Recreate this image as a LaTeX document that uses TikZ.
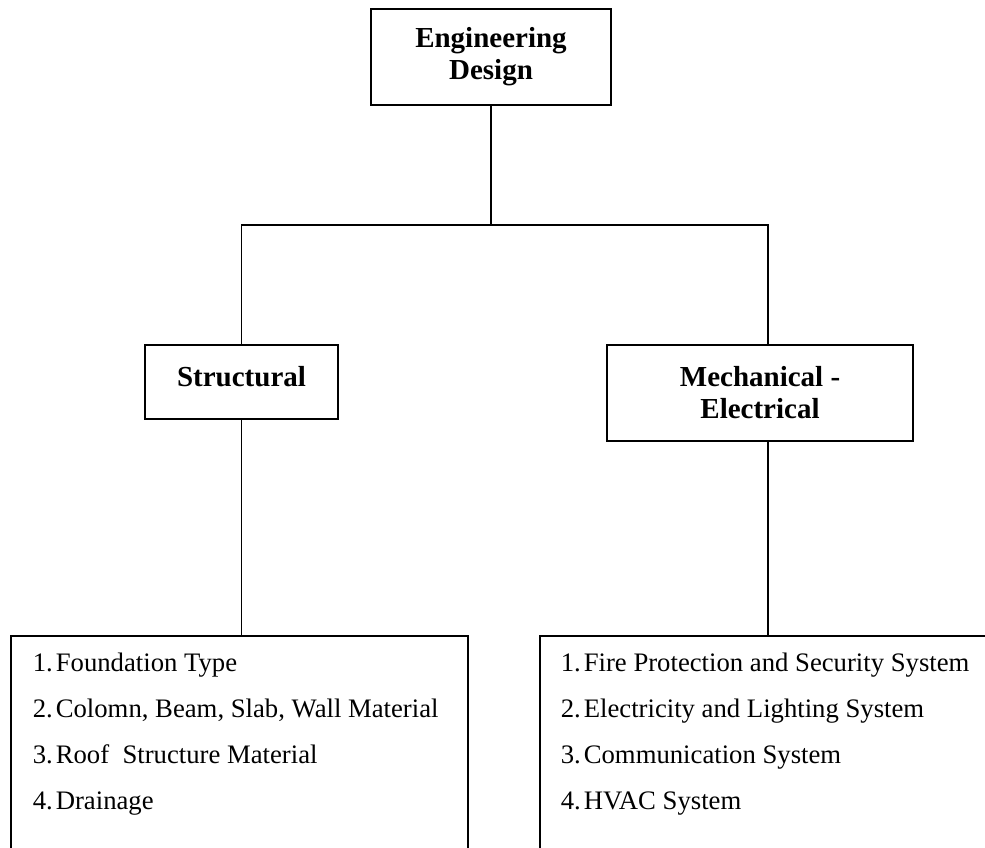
\documentclass[tikz,border=0pt]{standalone}
\usepackage{fontspec}
\setmainfont{Liberation Serif}
\usetikzlibrary{positioning, calc}

\begin{document}
\begin{tikzpicture}[x=1pt, y=-1pt, line width=1.6pt]
        % Define block styles
        \tikzstyle{block} = [rectangle, draw, align=center, inner sep=0pt, font=\fontsize{29}{32}\selectfont\bfseries]
        \tikzstyle{listbox} = [rectangle, draw, anchor=north west, minimum height=260pt]
        \tikzstyle{items} = [anchor=base west, inner sep=0pt, font=\fontsize{26.7}{46.3}\selectfont]

        \useasboundingbox (0,0) rectangle (985,847);

        % Place nodes
        \node [block, minimum width=240pt, minimum height=96pt] (design) at (491,57) {Engineering\\Design};
        \node [block, minimum width=193pt, minimum height=74pt, text depth=12pt] (structural) at (241.5,382) {Structural};
        \node [block, minimum width=306pt, minimum height=96pt] (mech) at (760,393) {Mechanical -\\Electrical};
        \node [listbox, minimum width=457pt] (structural_list) at (10,635) {};
        \node [listbox, minimum width=500pt] (mech_list) at (539,635) {};

        % Add the items of each list
        \node [items] (structural_items) at (32,671) {\begin{tabular}[t]{@{}l@{\hspace{3pt}}l@{}}
            1. & Foundation Type\\
            2. & Colomn, Beam, Slab, Wall Material\\
            3. & Roof\ \ Structure Material\\
            4. & Drainage
        \end{tabular}};
        \node [items] (mech_items) at (560,671) {\begin{tabular}[t]{@{}l@{\hspace{3pt}}l@{}}
            1. & Fire Protection and Security System\\
            2. & Electricity and Lighting System\\
            3. & Communication System\\
            4. & HVAC System
        \end{tabular}};

        % Draw connections
        \coordinate (split_right) at (768,225);
        \draw (design.south) -- (design.south |- split_right);
        \draw (structural.north) |- (split_right) -- (split_right |- mech.north);
        \draw (structural.south) -- (structural.south |- structural_list.north);
        \draw (split_right |- mech.south) -- (split_right |- mech_list.north);
    \end{tikzpicture}
\end{document}
